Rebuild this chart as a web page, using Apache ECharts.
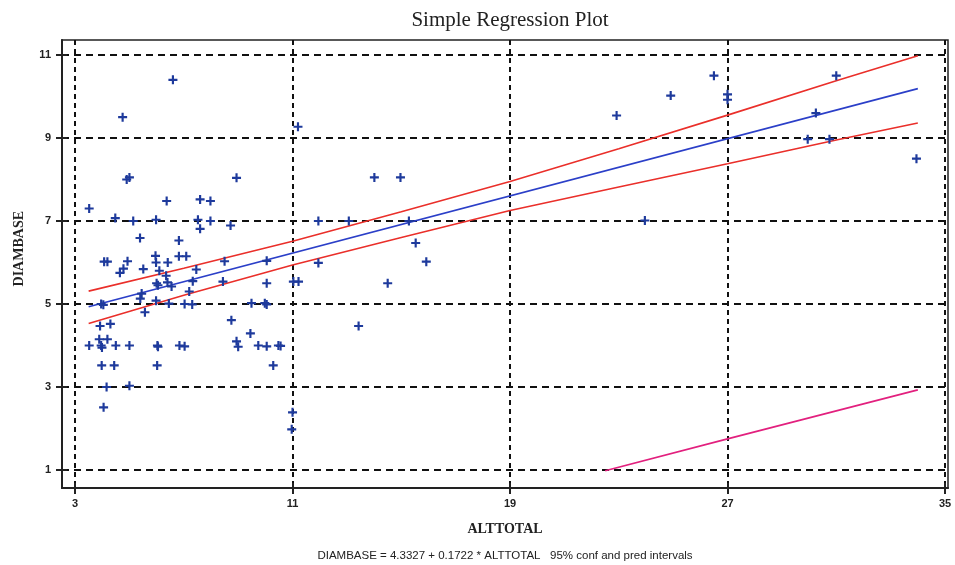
<!DOCTYPE html>
<html>
<head>
<meta charset="utf-8">
<script src="https://cdn.jsdelivr.net/npm/echarts@6/dist/echarts.min.js"></script>
<style>
html,body{margin:0;padding:0;background:#fff;}
#chart{width:955px;height:565px;}
</style>
</head>
<body>
<div id="chart"></div>
<script>
// ---- data ----
const titleText = 'Simple Regression Plot';
const xName = 'ALTTOTAL';
const yName = 'DIAMBASE';
const footerText = 'DIAMBASE = 4.3327 + 0.1722 * ALTTOTAL   95% conf and pred intervals';

const xTicks = [3, 11, 19, 27, 35];
const yTicks = [1, 3, 5, 7, 9, 11];

const altX = [6.6,4.75,11.2,4.9,5.0,8.94,3.52,6.37,7.6,7.98,4.48,5.14,5.98,7.52,7.98,7.6,8.72,11.95,5.39,6.82,
  4.07,4.19,4.93,5.96,6.82,7.09,6.41,5.98,4.65,4.78,5.51,6.1,7.46,8.5,10.05,6.35,6.0,6.05,6.4,6.55,
  7.33,7.2,5.45,5.4,3.96,4.04,5.98,6.45,7.03,7.31,5.57,3.92,4.3,8.44,10.05,11.03,11.22,9.49,9.98,10.05,
  8.75,3.52,3.89,4.19,3.96,3.99,4.5,5.0,6.03,6.05,6.84,7.03,8.94,9.0,9.45,9.74,10.05,10.48,10.56,3.98,
  4.44,6.02,10.29,4.16,5.0,4.05,11.0,10.97,14.01,14.97,13.07,15.28,15.53,15.92,11.95,14.5,13.43,22.92,24.91,26.5,
  27.0,27.0,31.0,30.25,29.95,30.75,33.95,23.96];
const diamY = [10.4,9.5,9.27,8.0,8.05,8.04,7.3,7.48,7.52,7.48,7.07,7.0,7.03,7.03,7.0,6.81,6.89,7.0,6.59,6.53,
  6.02,6.02,6.03,6.16,6.15,6.15,6.0,6.0,5.75,5.85,5.84,5.8,5.83,6.03,6.04,5.68,5.5,5.45,5.52,5.42,
  5.55,5.3,5.25,5.13,5.0,4.98,5.08,5.01,5.0,4.99,4.8,4.47,4.52,5.54,5.5,5.54,5.54,5.02,5.02,4.99,
  4.61,4.0,4.15,4.15,4.0,3.95,4.0,4.0,4.0,3.97,4.0,3.98,4.1,3.97,4.29,4.0,3.98,4.0,3.99,3.52,
  3.52,3.52,3.52,3.0,3.03,2.51,2.39,1.98,8.05,8.05,7.0,7.0,6.47,6.02,5.99,5.5,4.47,9.54,10.02,10.5,
  10.05,9.92,10.5,9.6,8.97,8.97,8.5,7.01];

const fitX = [3.5, 34.0];
const fitY = [4.935, 10.188];

const ciX = [3.5, 7, 11, 15, 19, 23, 27, 31, 34];
const ciUpper = [5.31, 5.86, 6.51, 7.22, 7.95, 8.74, 9.55, 10.38, 10.98];
const ciLower = [4.53, 5.21, 5.94, 6.60, 7.25, 7.82, 8.38, 8.95, 9.36];

const predLowX = [22.5, 27, 34];
const predLowY = [0.98, 1.75, 2.93];

// ---- build ----
const zip = (a, b) => a.map((v, i) => [v, b[i]]);
const plus = 'path://M3.8,0 H6.2 V3.8 H10 V6.2 H6.2 V10 H3.8 V6.2 H0 V3.8 H3.8 Z';
const axisFont = {fontFamily: 'Liberation Sans', fontSize: 11, fontWeight: 'bold', color: '#222'};

const chart = echarts.init(document.getElementById('chart'));
chart.setOption({
  animation: false,
  backgroundColor: '#fff',
  title: [
    {text: titleText, left: 505, textAlign: 'center', top: 5,
     textStyle: {fontFamily: 'Liberation Serif', fontSize: 21, fontWeight: 'normal', color: '#222'}},
    {text: footerText, left: 500, textAlign: 'center', top: 545,
     textStyle: {fontFamily: 'Liberation Sans', fontSize: 11.5, fontWeight: 'normal', color: '#222'}}
  ],
  graphic: [
    {type: 'text', left: 12, top: 211, rotation: Math.PI / 2, originX: 0, originY: 0,
     style: {text: yName, fill: '#222', font: 'bold 14px "Liberation Serif"'}}
  ],
  grid: {left: 62, right: 7, top: 40, bottom: 77, show: true, borderColor: '#222', borderWidth: 1.5},
  xAxis: [{
    type: 'value', min: 2.52, max: 35.11, position: 'bottom',
    name: xName, nameLocation: 'middle', nameGap: 34,
    nameTextStyle: {fontFamily: 'Liberation Serif', fontSize: 14, fontWeight: 'bold', color: '#222'},
    axisLine: {show: true, lineStyle: {color: '#222', width: 2}},
    axisTick: {show: true, length: 6, customValues: xTicks, lineStyle: {color: '#222', width: 2}},
    axisLabel: {customValues: xTicks, margin: 10, ...axisFont},
    splitLine: {show: true, lineStyle: {color: '#111', width: 2, type: [5, 4]}}
  }, {
    type: 'value', min: 2.52, max: 35.11, position: 'bottom',
    axisLine: {show: false},
    axisTick: {show: true, inside: true, length: 5, customValues: xTicks, lineStyle: {color: '#222', width: 2}},
    axisLabel: {show: false},
    splitLine: {show: false}
  }],
  yAxis: [{
    type: 'value', min: 0.566, max: 11.36, position: 'left',
    axisLine: {show: true, lineStyle: {color: '#222', width: 2}},
    axisTick: {show: true, length: 6, customValues: yTicks, lineStyle: {color: '#222', width: 2}},
    axisLabel: {customValues: yTicks, margin: 11, ...axisFont},
    splitLine: {show: true, lineStyle: {color: '#111', width: 2, type: [7, 5]}}
  }, {
    type: 'value', min: 0.566, max: 11.36, position: 'left',
    axisLine: {show: false},
    axisTick: {show: true, inside: true, length: 5, customValues: yTicks, lineStyle: {color: '#222', width: 2}},
    axisLabel: {show: false},
    splitLine: {show: false}
  }],
  series: [
    {type: 'line', data: zip(predLowX, predLowY), showSymbol: false, symbol: 'none',
     lineStyle: {color: '#e2207e', width: 1.6}, z: 3},
    {type: 'line', data: zip(ciX, ciUpper), showSymbol: false, symbol: 'none',
     lineStyle: {color: '#ea2f2a', width: 1.6}, z: 3},
    {type: 'line', data: zip(ciX, ciLower), showSymbol: false, symbol: 'none',
     lineStyle: {color: '#ea2f2a', width: 1.6}, z: 3},
    {type: 'line', data: zip(fitX, fitY), showSymbol: false, symbol: 'none',
     lineStyle: {color: '#2b3fc8', width: 1.6}, z: 3},
    {type: 'scatter', data: zip(altX, diamY), symbol: plus, symbolSize: 9,
     itemStyle: {color: '#1e3a9c', opacity: 1}, z: 4}
  ]
});
</script>
</body>
</html>
